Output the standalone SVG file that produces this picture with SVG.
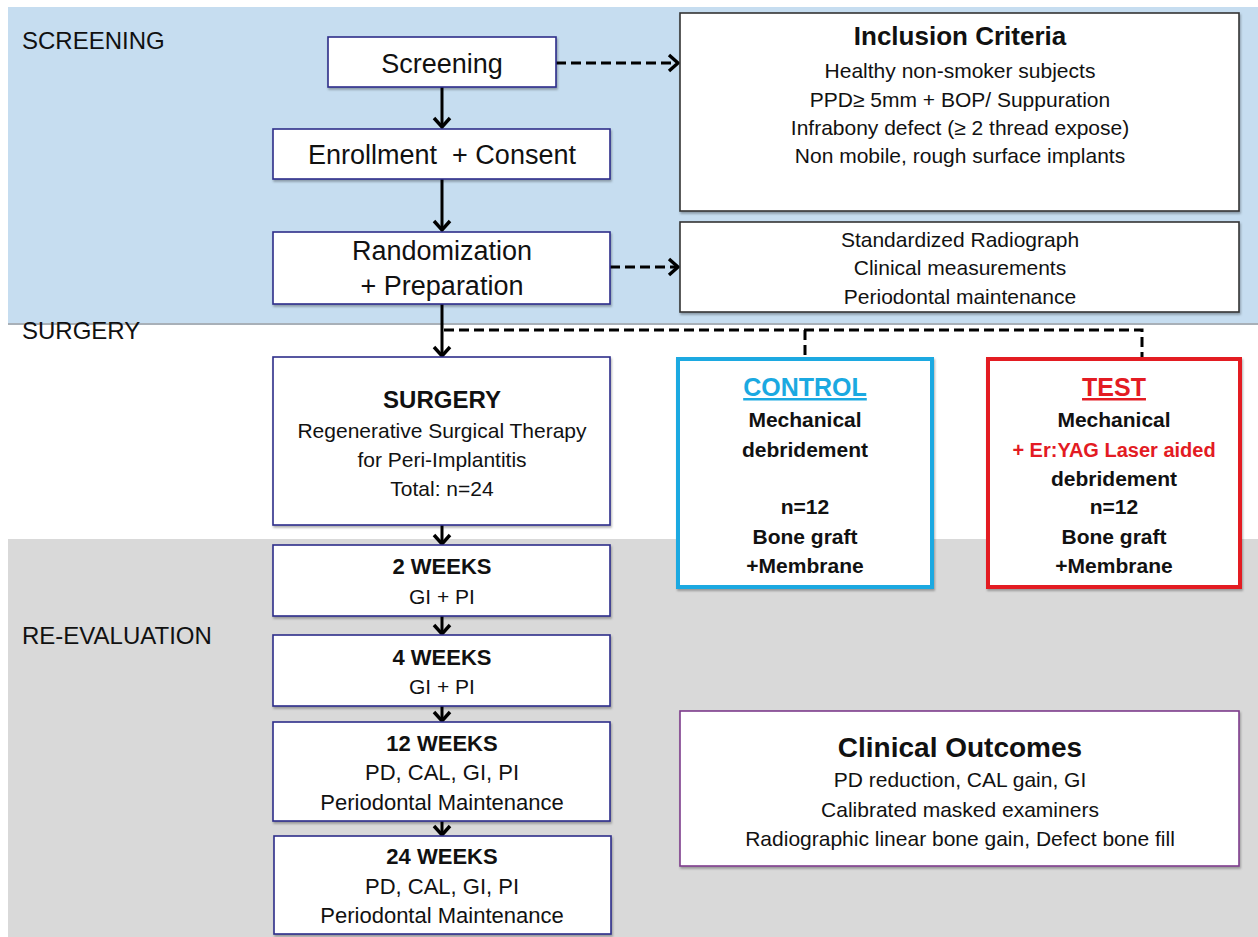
<svg xmlns="http://www.w3.org/2000/svg" width="1258" height="937" viewBox="0 0 1258 937">
<style>
text{font-family:"Liberation Sans",Arial,sans-serif;fill:#111;text-anchor:middle}
.lbl{font-size:24px;text-anchor:start}
.big{font-size:27px}
.t21{font-size:21px}
.t22{font-size:22px}
.b{font-weight:bold}
.flow{fill:#fff;stroke:#2E2E8A;stroke-width:1.6}
.info{fill:#fff;stroke:#333;stroke-width:1.6}
.conn{fill:none;stroke:#000;stroke-width:3}
.dash{fill:none;stroke:#000;stroke-width:3;stroke-dasharray:10 5}
</style>
<defs>
<marker id="ah" markerWidth="18" markerHeight="20" refX="14" refY="10" orient="auto" markerUnits="userSpaceOnUse">
<path d="M5,2 L14,10 L5,18" fill="none" stroke="#000" stroke-width="3.4"/>
</marker>
<filter id="sh" x="-5%" y="-5%" width="110%" height="115%">
<feDropShadow dx="1" dy="2" stdDeviation="1.2" flood-color="#000" flood-opacity="0.3"/>
</filter>
</defs>

<g id="bands">
<rect x="8" y="7" width="1250" height="316" fill="#C6DDF0"/>
<rect x="8" y="323" width="1250" height="2" fill="#A8B0B8"/>
<rect x="8" y="539" width="1250" height="398" fill="#D9D9D9"/>
<text class="lbl" x="22" y="49">SCREENING</text>
<text class="lbl" x="22" y="339">SURGERY</text>
<text class="lbl" x="22" y="644">RE-EVALUATION</text>
</g>

<g id="connectors">
<path class="conn" d="M442,87 V127" marker-end="url(#ah)"/>
<path class="conn" d="M442,179 V230" marker-end="url(#ah)"/>
<path class="conn" d="M442,304 V356" marker-end="url(#ah)"/>
<path class="conn" d="M442,525 V544" marker-end="url(#ah)"/>
<path class="conn" d="M442,616 V634" marker-end="url(#ah)"/>
<path class="conn" d="M442,706 V721" marker-end="url(#ah)"/>
<path class="conn" d="M442,821 V835" marker-end="url(#ah)"/>
<path class="dash" d="M556,63 H678" marker-end="url(#ah)"/>
<path class="dash" d="M610,267 H678" marker-end="url(#ah)"/>
<path class="dash" d="M444,330 H1142 V358"/>
<path class="dash" d="M805,330 V358"/>
</g>

<g id="screening">
<rect class="flow" x="328" y="37" width="228" height="50" filter="url(#sh)"/>
<text class="big" x="442" y="73">Screening</text>
</g>
<g id="enrollment">
<rect class="flow" x="273" y="129" width="337" height="50" filter="url(#sh)"/>
<text class="big" x="442" y="164">Enrollment&#160; + Consent</text>
</g>
<g id="randomization">
<rect class="flow" x="273" y="232" width="337" height="72" filter="url(#sh)"/>
<text class="big" x="442" y="260">Randomization</text>
<text class="big" x="442" y="295">+ Preparation</text>
</g>
<g id="inclusion">
<rect class="info" x="680" y="13" width="559" height="198" filter="url(#sh)"/>
<text class="b" x="960" y="45" font-size="26">Inclusion Criteria</text>
<text class="t21" x="960" y="78">Healthy non-smoker subjects</text>
<text class="t21" x="960" y="107">PPD≥ 5mm + BOP/ Suppuration</text>
<text class="t21" x="960" y="135">Infrabony defect (≥ 2 thread expose)</text>
<text class="t21" x="960" y="163">Non mobile, rough surface implants</text>
</g>
<g id="preparation">
<rect class="info" x="680" y="222" width="559" height="90" filter="url(#sh)"/>
<text class="t21" x="960" y="247">Standardized Radiograph</text>
<text class="t21" x="960" y="275">Clinical measurements</text>
<text class="t21" x="960" y="304">Periodontal maintenance</text>
</g>
<g id="surgery">
<rect class="flow" x="273" y="357" width="337" height="168" filter="url(#sh)"/>
<text class="b" x="442" y="408" font-size="24">SURGERY</text>
<text class="t21" x="442" y="438">Regenerative Surgical Therapy</text>
<text class="t21" x="442" y="467">for Peri-Implantitis</text>
<text class="t21" x="442" y="496">Total: n=24</text>
</g>
<g id="control">
<rect x="678" y="359" width="254" height="228" fill="#fff" stroke="#1BA9E1" stroke-width="4" filter="url(#sh)"/>
<text class="b" x="805" y="396" font-size="25" style="fill:#1BA9E1" text-decoration="underline">CONTROL</text>
<text class="b" x="805" y="427" font-size="21">Mechanical</text>
<text class="b" x="805" y="457" font-size="21">debridement</text>
<text class="b" x="805" y="514" font-size="21">n=12</text>
<text class="b" x="805" y="544" font-size="21">Bone graft</text>
<text class="b" x="805" y="573" font-size="21">+Membrane</text>
</g>
<g id="test">
<rect x="988" y="359" width="252" height="228" fill="#fff" stroke="#E31B23" stroke-width="4" filter="url(#sh)"/>
<text class="b" x="1114" y="396" font-size="25" style="fill:#E31B23" text-decoration="underline">TEST</text>
<text class="b" x="1114" y="427" font-size="21">Mechanical</text>
<text class="b" x="1114" y="457" font-size="20" style="fill:#E31B23">+ Er:YAG Laser aided</text>
<text class="b" x="1114" y="486" font-size="21">debridement</text>
<text class="b" x="1114" y="514" font-size="21">n=12</text>
<text class="b" x="1114" y="544" font-size="21">Bone graft</text>
<text class="b" x="1114" y="573" font-size="21">+Membrane</text>
</g>
<g id="week2">
<rect class="flow" x="273" y="545" width="337" height="71" filter="url(#sh)"/>
<text class="b t22" x="442" y="574">2 WEEKS</text>
<text class="t21" x="442" y="604">GI + PI</text>
</g>
<g id="week4">
<rect class="flow" x="273" y="635" width="337" height="71" filter="url(#sh)"/>
<text class="b t22" x="442" y="665">4 WEEKS</text>
<text class="t21" x="442" y="694">GI + PI</text>
</g>
<g id="week12">
<rect class="flow" x="273" y="722" width="337" height="99" filter="url(#sh)"/>
<text class="b t22" x="442" y="751">12 WEEKS</text>
<text class="t22" x="442" y="780">PD, CAL, GI, PI</text>
<text class="t22" x="442" y="810">Periodontal Maintenance</text>
</g>
<g id="week24">
<rect class="flow" x="274" y="836" width="337" height="98" filter="url(#sh)"/>
<text class="b t22" x="442" y="864">24 WEEKS</text>
<text class="t22" x="442" y="894">PD, CAL, GI, PI</text>
<text class="t22" x="442" y="923">Periodontal Maintenance</text>
</g>
<g id="outcomes">
<rect x="680" y="711" width="559" height="155" fill="#fff" stroke="#7D3C8C" stroke-width="1.6" filter="url(#sh)"/>
<text class="b" x="960" y="757" font-size="28">Clinical Outcomes</text>
<text class="t21" x="960" y="787">PD reduction, CAL gain, GI</text>
<text class="t21" x="960" y="817">Calibrated masked examiners</text>
<text class="t21" x="960" y="846">Radiographic linear bone gain, Defect bone fill</text>
</g>
</svg>
